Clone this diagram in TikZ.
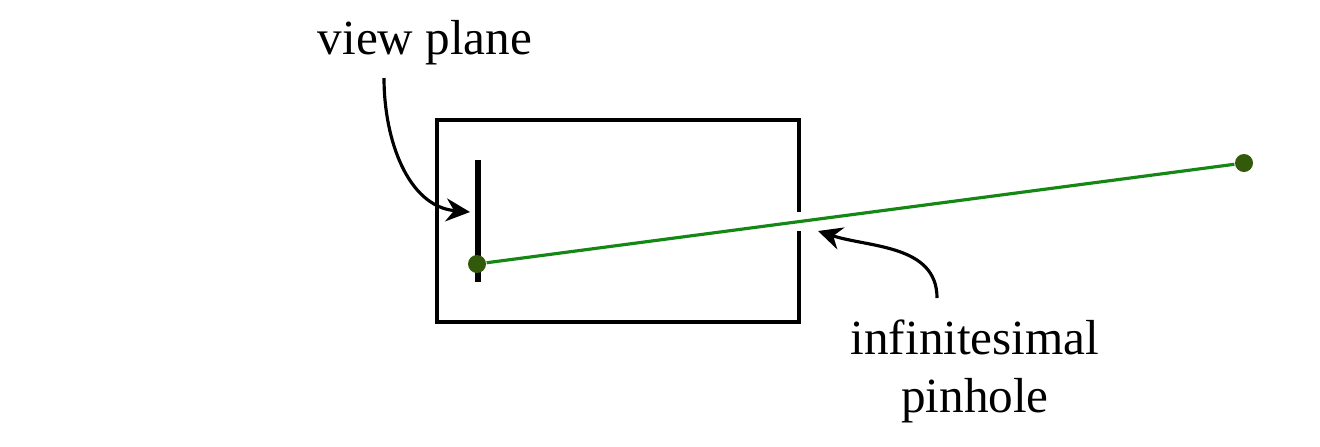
\documentclass[tikz,border=0pt]{standalone}
\usepackage{fontspec}
\setmainfont{Liberation Serif}
\usetikzlibrary{arrows.meta}
\definecolor{raygreen}{RGB}{20,135,20}
\definecolor{dotgreen}{RGB}{50,90,10}
\tikzset{
    label text/.style={font=\fontsize{14}{16.5}\selectfont, inner sep=0pt, align=center},
    pointer/.style={line width=0.9pt, -{Stealth[length=2.4mm, width=2.3mm, inset=0.8mm]}},
    ray dot/.style={circle, fill=dotgreen, inner sep=0pt, minimum size=1.8mm},
}
\begin{document}
\begin{tikzpicture}%% pinhole camera
    \useasboundingbox (0, 0) rectangle (13.2, 4.46);

        % camera box, with the gap of the pinhole
        \draw[line width=1pt] (7.99, 2.34) to (7.99, 3.26) to (4.37, 3.26) to (4.37, 1.24) to (7.99, 1.24) to (7.99, 2.15);

        % view plane
        \draw[line width=1.5pt] (4.78, 1.64) to (4.78, 2.86);

        % ray through the pinhole
        \node[ray dot] (image) at (4.77, 1.82){};
        \node[ray dot] (object) at (12.44, 2.83){};
        \draw[raygreen, line width=0.9pt] (image) to (object);

        % labels
        \node[label text] (viewlabel) at (4.25, 4.03){view plane};
        \node[label text] (pinlabel) at (9.75, 0.75){infinitesimal\\pinhole};

        \coordinate (viewtip) at (4.70, 2.34);
        \coordinate (pintip) at (8.18, 2.15);
        \draw[pointer] (3.84, 3.68) to[out=-90, in=175] (viewtip);
        \draw[pointer] (9.37, 1.48) to[out=90, in=-18] (pintip);

\end{tikzpicture}
\end{document}
